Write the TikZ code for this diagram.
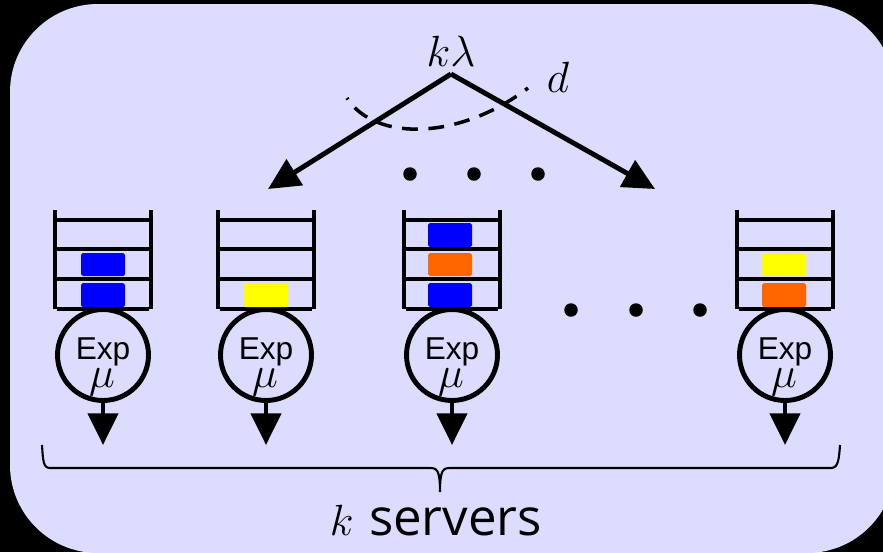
\documentclass[tikz,border=0pt]{standalone}
\usepackage{fontspec}
\newfontfamily\expfont{Liberation Sans}
\newfontfamily\labelfont{Open Sans}
\usetikzlibrary{positioning,arrows.meta,decorations.pathreplacing}

\definecolor{panelblue}{RGB}{220,220,255}
\definecolor{pktblue}{RGB}{0,0,255}
\definecolor{pktorange}{RGB}{255,102,0}
\definecolor{pktyellow}{RGB}{255,255,0}

\begin{document}
\begin{tikzpicture}[x=0.02cm, y=-0.02cm,
    bar/.style={line width=2.8pt},
    server/.style={circle, draw=black, line width=2.8pt, minimum size=1.82cm, inner sep=0pt},
    packet/.style={rounded corners=1pt},
    arrow/.style={-{Triangle[length=18pt,width=17pt]}, line width=2.8pt},
    dot/.style={circle, fill=black, minimum size=0.27cm, inner sep=0pt},
    brace/.style={line width=1.2pt},
    mathlabel/.style={anchor=base, font=\fontsize{31}{33}\selectfont}
]
    \useasboundingbox (0,0) rectangle (883,552);
    \clip (0,0) rectangle (883,552);
    \fill[black] (0,0) rectangle (883,552);
    \fill[panelblue, rounded corners=1.76cm] (10,4) rectangle (895,553);

    % queues with their servers
    \foreach \cx/\n in {103/1, 266/2, 452/3, 785/4} {
        \draw[bar] (\cx-48,210) -- (\cx-48,309);
        \draw[bar] (\cx+48,210) -- (\cx+48,309);
        \foreach \y in {220,249,279}
            \draw[bar] (\cx-48,\y) -- (\cx+48,\y);
        \draw[bar] (\cx-46,309) -- (\cx+46,309);

        \node[server] (srv\n) at (\cx,355) {};
        \node[anchor=base, inner sep=0pt, font=\expfont\fontsize{18}{18}\selectfont] (exp\n) at (\cx,359) {Exp};
        \node[anchor=base, inner sep=0pt, font=\fontsize{25}{25}\selectfont] (mu\n) at (\cx-1,387) {$\mu$};

        \coordinate (out\n) at (\cx,445);
        \draw[arrow] (srv\n) -- (out\n);
    }

    % jobs waiting
    \fill[packet, pktblue]   (81,253) rectangle (125,276);
    \fill[packet, pktblue]   (81,283) rectangle (125,307);
    \fill[packet, pktyellow] (244,283) rectangle (288,307);
    \fill[packet, pktblue]   (428,223) rectangle (472,247);
    \fill[packet, pktorange] (428,253) rectangle (472,276);
    \fill[packet, pktblue]   (428,283) rectangle (472,307);
    \fill[packet, pktyellow] (762,253) rectangle (806,276);
    \fill[packet, pktorange] (762,283) rectangle (806,307);

    % dispatcher
    \coordinate (src) at (451,74);
    \node[mathlabel] (rate) at (451,66) {$k\lambda$};
    \node[mathlabel] (choice) at (558,92) {$d$};
    \coordinate (in2) at (268,189);
    \coordinate (in4) at (655,189);
    \draw[arrow] (src) -- (in2);
    \draw[arrow] (src) -- (in4);
    \draw[line width=2pt, dash pattern=on 9pt off 6pt, dash phase=8pt]
        (347,98) .. controls (375,142) and (460,140) .. (528,88);

    \foreach \x [count=\i] in {410,474,538}
        \node[dot] (tdot\i) at (\x,174) {};
    \foreach \x [count=\i] in {571,636,700}
        \node[dot] (rdot\i) at (\x,310) {};

    % brace under the servers
    \coordinate (bl) at (42,445);
    \coordinate (br) at (840,445);
    \coordinate (tip) at (440,492);
    \draw[brace] (bl) .. controls (43,460) and (43,468) .. (50,468)
        -- (430,468) .. controls (437,468) and (440,470) .. (tip)
        .. controls (440,470) and (443,468) .. (450,468)
        -- (831,468) .. controls (838,468) and (839,460) .. (br);
    \node[font=\fontsize{29}{32}\selectfont] (servers) at (436,521) {$k$ \labelfont servers};
\end{tikzpicture}
\end{document}
